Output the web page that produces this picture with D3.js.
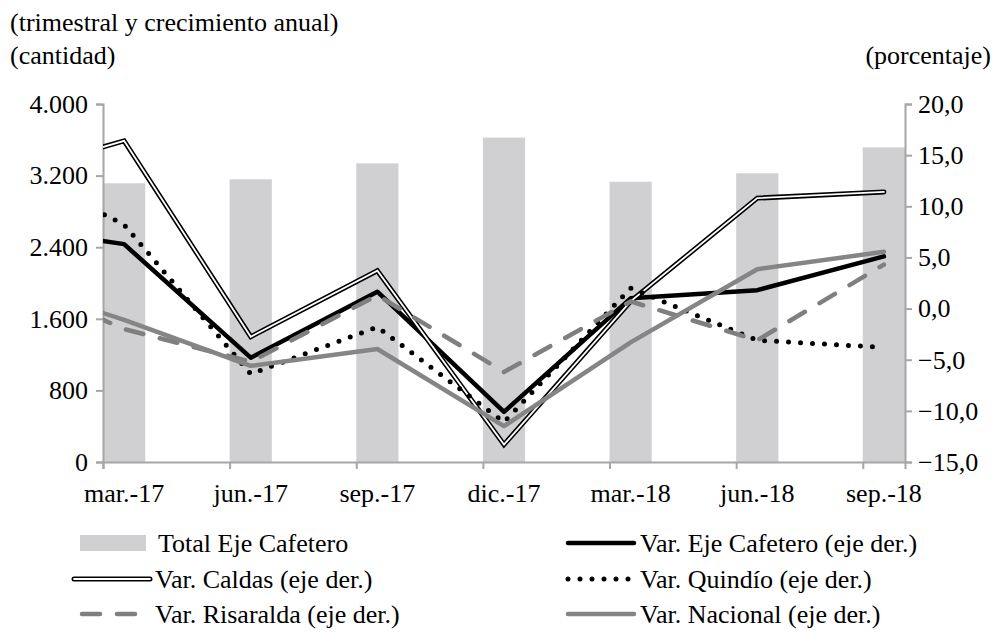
<!DOCTYPE html>
<html><head><meta charset="utf-8">
<script src="https://cdn.jsdelivr.net/npm/d3@7"></script>
<style>
html,body{margin:0;padding:0;background:#fff;}
</style></head>
<body><svg id="c" width="994" height="634"></svg>
<script>
// ---- data ----
const categories = ["mar.-17","jun.-17","sep.-17","dic.-17","mar.-18","jun.-18","sep.-18"];
const lineCategories = ["dic.-16","mar.-17","jun.-17","sep.-17","dic.-17","mar.-18","jun.-18","sep.-18"];
const totalEjeCafetero = [3114, 3159, 3337, 3624, 3132, 3226, 3516];
const varEjeCafetero = [8.1, 6.3, -4.8, 1.65, -10.1, 1.0, 1.8, 5.1];
const varCaldas      = [12.8, 16.4, -2.75, 3.7, -13.3, 0.7, 10.8, 11.4];
const varQuindio     = [14.5, 8.2, -6.4, -1.8, -11.1, 2.0, -3.1, -3.8];
const varRisaralda   = [3.4, -2.0, -5.2, 1.3, -6.2, 0.7, -3.1, 4.3];
const varNacional    = [2.9, -1.1, -5.6, -3.95, -11.5, -3.3, 3.85, 5.55];
const leftTicks = [0, 800, 1600, 2400, 3200, 4000];
const rightTicks = [-15, -10, -5, 0, 5, 10, 15, 20];
const titleLines = ["(trimestral y crecimiento anual)", "(cantidad)"];
const rightTitle = "(porcentaje)";

// ---- layout ----
const FONT = '"Liberation Serif", "Times New Roman", Times, "DejaVu Serif", serif';
const svg = d3.select("#c");
const L = 103, R = 905, T = 104, B = 462;
const monthsPerStep = 3;
const nMonths = categories.length * monthsPerStep - 2; // 19 months
const x = d3.scaleLinear().domain([0, nMonths]).range([L, R]);
const yL = d3.scaleLinear().domain([0, 4000]).range([B, T]);
const yR = d3.scaleLinear().domain([-15, 20]).range([B, T]);
const axisColor = "#a6a6a6";
const fs = 26;

const catMonth = (i) => i * monthsPerStep;
const lineMonth = (i) => (i - 1) * monthsPerStep;

function txt(sel) { return sel.attr("font-family", FONT).attr("font-size", fs).attr("fill", "#000"); }

// bars
svg.append("g").selectAll("rect").data(totalEjeCafetero).join("rect")
  .attr("x", (d,i) => x(catMonth(i)))
  .attr("width", x(1) - x(0))
  .attr("y", d => yL(d))
  .attr("height", d => yL(0) - yL(d))
  .attr("fill", "#d0cfd1");

// axes
const fmtL = d3.formatLocale({decimal:",", thousands:".", grouping:[3], currency:["$",""]});
const fL = fmtL.format(",.0f"), fR = fmtL.format(".1f");

const gL = svg.append("g").attr("transform", `translate(${L},0)`)
  .call(d3.axisLeft(yL).tickValues(leftTicks).tickFormat(fL).tickSizeOuter(0).tickSize(7).tickPadding(8));
const gR = svg.append("g").attr("transform", `translate(${R},0)`)
  .call(d3.axisRight(yR).tickValues(rightTicks).tickFormat(fR).tickSizeOuter(0).tickSize(7).tickPadding(6));
const gX = svg.append("g").attr("transform", `translate(0,${B})`)
  .call(d3.axisBottom(x).tickValues(categories.map((c,i)=>catMonth(i))).tickFormat(() => "").tickSizeOuter(0).tickSize(7));
[gL, gR, gX].forEach(g => {
  g.attr("font-family", FONT).attr("font-size", fs);
  g.selectAll("path.domain").attr("stroke", axisColor).attr("stroke-width", 2);
  g.selectAll(".tick line").attr("stroke", axisColor).attr("stroke-width", 2);
  txt(g.selectAll("text"));
});
// x labels
txt(svg.append("g").selectAll("text").data(categories).join("text"))
  .attr("x", (d,i) => x(catMonth(i) + 0.5))
  .attr("y", 502)
  .attr("text-anchor", "middle")
  .text(d => d);

// lines
svg.append("defs").append("clipPath").attr("id", "clip")
  .append("rect").attr("x", L).attr("y", 0).attr("width", R - L + 30).attr("height", 634);
const line = d3.line().x((d,i) => x(lineMonth(i) + 0.5)).y(d => yR(d));
const gLines = svg.append("g").attr("clip-path", "url(#clip)");

const series = [
  {name:"Var. Eje Cafetero (eje der.)", data:varEjeCafetero, type:"solid", color:"#000"},
  {name:"Var. Caldas (eje der.)", data:varCaldas, type:"double", color:"#000"},
  {name:"Var. Quindío (eje der.)", data:varQuindio, type:"dot", color:"#000"},
  {name:"Var. Risaralda (eje der.)", data:varRisaralda, type:"dash", color:"#7f7f7f"},
  {name:"Var. Nacional (eje der.)", data:varNacional, type:"solid", color:"#858585"}
];

function styleLine(sel, s) {
  if (s.type === "solid") {
    sel.append("path").attr("d", s.d).attr("fill","none").attr("stroke", s.color).attr("stroke-width", 4.5).attr("stroke-linejoin","round").attr("stroke-linecap","round");
  } else if (s.type === "double") {
    sel.append("path").attr("d", s.d).attr("fill","none").attr("stroke", s.color).attr("stroke-width", 5).attr("stroke-linejoin","miter").attr("stroke-linecap","round");
    sel.append("path").attr("d", s.d).attr("fill","none").attr("stroke", "#fff").attr("stroke-width", 1.8).attr("stroke-linejoin","miter").attr("stroke-linecap","round");
  } else if (s.type === "dot") {
    sel.append("path").attr("d", s.d).attr("fill","none").attr("stroke", s.color).attr("stroke-width", 5).attr("stroke-dasharray","0,12").attr("stroke-linecap","round");
  } else if (s.type === "dash") {
    sel.append("path").attr("d", s.d).attr("fill","none").attr("stroke", s.color).attr("stroke-width", 4.5).attr("stroke-dasharray","18,17").attr("stroke-linecap","round");
  }
}
series.forEach(s => { s.d = line(s.data); styleLine(gLines.append("g"), s); });

// titles
txt(svg.append("g").selectAll("text").data(titleLines).join("text"))
  .attr("x", 10).attr("y", (d,i) => 31 + i*33).text(d => d);
txt(svg.append("text")).attr("x", 991).attr("y", 64).attr("text-anchor","end").text(rightTitle);

// legend
const leg = svg.append("g");
const legItems = [
  {name:"Total Eje Cafetero", type:"bar"},
  series[0], series[1], series[2], series[3], series[4]
];
const legPos = [[80,543],[567,543],[72,579],[567,579],[80,614],[567,614]];
legItems.forEach((s, k) => {
  const [lx, ly] = legPos[k];
  const g = leg.append("g");
  if (s.type === "bar") {
    g.append("rect").attr("x", lx).attr("y", ly - 8).attr("width", 66).attr("height", 16).attr("fill", "#d0cfd1");
    txt(g.append("text")).attr("x", 158).attr("y", ly + 9).text(s.name);
    return;
  }
  const x0 = s.type === "double" ? 74 : (k % 2 ? 568 : 82), x1 = s.type === "double" ? 150 : (k % 2 ? 634 : 146);
  const d = d3.line()([[x0, ly], [x1, ly]]);
  styleLine(g, Object.assign({}, s, {d}));
  txt(g.append("text")).attr("x", k % 2 ? 640 : 155).attr("y", ly + 9).text(s.name);
});
</script></body></html>
